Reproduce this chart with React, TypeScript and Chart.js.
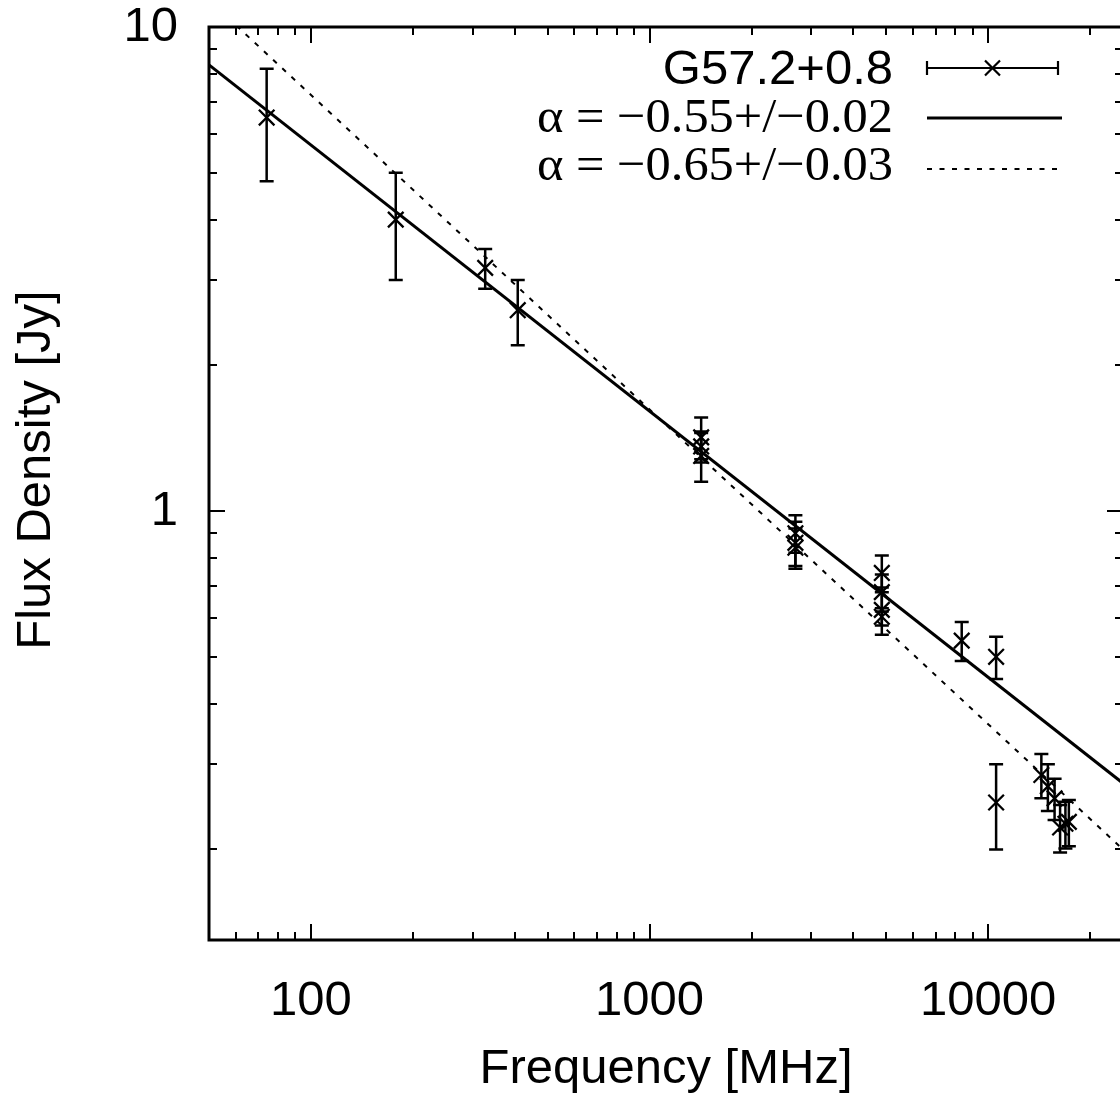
import { useEffect, useRef } from 'react';
import { Chart, registerables } from 'chart.js';
Chart.register(...registerables);

// ---- data ----
const freqs = [74, 178, 327, 408, 1420, 1420, 1420, 2695, 2695, 2695, 4850, 4850, 4850, 4850, 8350, 10550, 10550, 14350, 15000, 15700, 16300, 16900, 17300];
const flux = [6.5, 4.0, 3.18, 2.6, 1.42, 1.36, 1.3, 0.9, 0.86, 0.84, 0.745, 0.68, 0.625, 0.605, 0.54, 0.5, 0.25, 0.285, 0.27, 0.255, 0.222, 0.226, 0.228];
const fluxErr = [1.7, 1.0, 0.3, 0.4, 0.14, 0.1, 0.15, 0.08, 0.09, 0.08, 0.065, 0.06, 0.07, 0.025, 0.05, 0.05, 0.05, 0.03, 0.03, 0.025, 0.025, 0.025, 0.025];

const fitFreq = [50, 25000];
const fitSolid = [8.35, 0.274];
const fitDashed = [11.36, 0.2];

const xTickValues = [100, 1000, 10000];
const xTickLabels = ['100', '1000', '10000'];
const yTickValues = [1, 10];
const yTickLabels = ['1', '10'];
const minorMultipliers = [2, 3, 4, 5, 6, 7, 8, 9];
const decades = [0.1, 1, 10, 100, 1000, 10000];

const seriesLabel = 'G57.2+0.8';
const fitLabels = ['α = −0.55+/−0.02', 'α = −0.65+/−0.03'];
const xTitle = 'Frequency [MHz]';
const yTitle = 'Flux Density [Jy]';

const W = 1130;
const H = 1098;
const SANS = '49px "Liberation Sans", Arial, Helvetica, sans-serif';
const SERIF = '49px "Liberation Serif", "Times New Roman", Times, serif';

const fitText = (ctx: CanvasRenderingContext2D, text: string, right: number, y: number, target: number) => {
  const w = ctx.measureText(text).width;
  const s = target / w;
  ctx.save();
  ctx.translate(right, y);
  ctx.scale(s, 1);
  ctx.textAlign = 'right';
  ctx.fillText(text, 0, 0);
  ctx.restore();
};

const gnuplotPlugin = {
  id: 'gnuplotDecor',
  afterDatasetsDraw(chart: any) {
    const ctx = chart.ctx as CanvasRenderingContext2D;
    const xs = chart.scales.x;
    const ys = chart.scales.y;
    ctx.save();
    ctx.strokeStyle = '#000';
    ctx.lineWidth = 2.5;
    const cap = 7;
    for (let i = 0; i < freqs.length; i++) {
      const px = xs.getPixelForValue(freqs[i]);
      const yt = ys.getPixelForValue(flux[i] + fluxErr[i]);
      const yb = ys.getPixelForValue(flux[i] - fluxErr[i]);
      ctx.beginPath();
      ctx.moveTo(px, yt);
      ctx.lineTo(px, yb);
      ctx.moveTo(px - cap, yt);
      ctx.lineTo(px + cap, yt);
      ctx.moveTo(px - cap, yb);
      ctx.lineTo(px + cap, yb);
      ctx.stroke();
    }
    ctx.restore();
  },
  afterDraw(chart: any) {
    const ctx = chart.ctx as CanvasRenderingContext2D;
    const xs = chart.scales.x;
    const ys = chart.scales.y;
    const a = chart.chartArea;
    ctx.save();
    ctx.strokeStyle = '#000';
    ctx.fillStyle = '#000';

    // ticks (inward, mirrored)
    ctx.lineWidth = 2;
    const major = 16;
    const minor = 8;
    const xMin = xs.min, xMax = xs.max, yMin = ys.min, yMax = ys.max;
    const tickX = (v: number, len: number) => {
      const px = Math.round(xs.getPixelForValue(v));
      ctx.beginPath();
      ctx.moveTo(px, a.bottom);
      ctx.lineTo(px, a.bottom - len);
      ctx.moveTo(px, a.top);
      ctx.lineTo(px, a.top + len);
      ctx.stroke();
    };
    const tickY = (v: number, len: number) => {
      const py = Math.round(ys.getPixelForValue(v));
      ctx.beginPath();
      ctx.moveTo(a.left, py);
      ctx.lineTo(a.left + len, py);
      ctx.moveTo(a.right, py);
      ctx.lineTo(a.right - len, py);
      ctx.stroke();
    };
    decades.forEach((d) => {
      minorMultipliers.forEach((m) => {
        const v = d * m;
        if (v > xMin && v < xMax) tickX(v, minor);
        if (v > yMin && v < yMax) tickY(v, minor);
      });
    });
    xTickValues.forEach((v) => tickX(v, major));
    yTickValues.forEach((v) => tickY(v, major));

    // border
    ctx.lineWidth = 3;
    ctx.strokeRect(a.left, a.top, a.right - a.left, a.bottom - a.top);

    // tick labels
    ctx.font = SANS;
    ctx.textAlign = 'center';
    ctx.textBaseline = 'middle';
    xTickValues.forEach((v, i) => {
      ctx.fillText(xTickLabels[i], xs.getPixelForValue(v), 1001);
    });
    ctx.textAlign = 'right';
    yTickValues.forEach((v, i) => {
      ctx.fillText(yTickLabels[i], 178, ys.getPixelForValue(v));
    });

    // axis titles
    ctx.textAlign = 'center';
    ctx.fillText(xTitle, (a.left + a.right) / 2, 1069);
    ctx.save();
    ctx.translate(36, 470);
    ctx.rotate(-Math.PI / 2);
    ctx.fillText(yTitle, 0, 0);
    ctx.restore();

    // legend
    const textRight = 893;
    const s0 = 927;
    const s1 = 1058;
    ctx.textAlign = 'right';
    ctx.font = SANS;
    ctx.fillText(seriesLabel, textRight, 70);
    ctx.font = SERIF;
    fitText(ctx, fitLabels[0], textRight, 119, 356);
    fitText(ctx, fitLabels[1], textRight, 167, 356);

    // legend sample: error bar with cross
    ctx.lineWidth = 2.2;
    const ly = 68;
    ctx.beginPath();
    ctx.moveTo(s0, ly);
    ctx.lineTo(s1, ly);
    ctx.moveTo(s0, ly - 7);
    ctx.lineTo(s0, ly + 7);
    ctx.moveTo(s1, ly - 7);
    ctx.lineTo(s1, ly + 7);
    const cx = (s0 + s1) / 2;
    const r = 7.5;
    ctx.moveTo(cx - r, ly - r);
    ctx.lineTo(cx + r, ly + r);
    ctx.moveTo(cx - r, ly + r);
    ctx.lineTo(cx + r, ly - r);
    ctx.stroke();
    // solid
    ctx.lineWidth = 3;
    ctx.beginPath();
    ctx.moveTo(s0, 118);
    ctx.lineTo(s1 + 4, 118);
    ctx.stroke();
    // dashed
    ctx.lineWidth = 2;
    ctx.setLineDash([5, 7.5]);
    ctx.beginPath();
    ctx.moveTo(s0, 169);
    ctx.lineTo(s1 + 4, 169);
    ctx.stroke();
    ctx.setLineDash([]);
    ctx.restore();
  },
};

export default function App() {
  const ref = useRef<HTMLCanvasElement | null>(null);
  useEffect(() => {
    if (!ref.current) return;
    const chart = new Chart(ref.current, {
      type: 'scatter',
      data: {
        datasets: [
          {
            label: seriesLabel,
            data: freqs.map((f, i) => ({ x: f, y: flux[i] })),
            pointStyle: 'crossRot',
            pointRadius: 11,
            borderColor: '#000',
            backgroundColor: '#000',
            borderWidth: 2.3,
            showLine: false,
          } as any,
          {
            label: fitLabels[0],
            type: 'line',
            data: fitFreq.map((f, i) => ({ x: f, y: fitSolid[i] })),
            borderColor: '#000',
            borderWidth: 3,
            pointRadius: 0,
            fill: false,
          } as any,
          {
            label: fitLabels[1],
            type: 'line',
            data: fitFreq.map((f, i) => ({ x: f, y: fitDashed[i] })),
            borderColor: '#000',
            borderWidth: 2,
            borderDash: [5, 7.5],
            pointRadius: 0,
            fill: false,
          } as any,
        ],
      },
      options: {
        responsive: false,
        animation: false,
        devicePixelRatio: 1,
        layout: { autoPadding: false, padding: { left: 209, top: 27, right: W - 1123, bottom: H - 940 } },
        plugins: { legend: { display: false }, tooltip: { enabled: false } },
        scales: {
          x: { type: 'logarithmic', min: 50, max: 25000, display: false },
          y: { type: 'logarithmic', min: 0.13, max: 10, display: false },
        },
      },
      plugins: [gnuplotPlugin],
    });
    return () => chart.destroy();
  }, []);
  return (
    <div style={{ position: 'absolute', left: 0, top: 0, width: 1120, height: 1098, overflow: 'hidden', background: '#fff' }}>
      <canvas ref={ref} width={W} height={H} style={{ width: W, height: H, display: 'block' }} />
    </div>
  );
}
